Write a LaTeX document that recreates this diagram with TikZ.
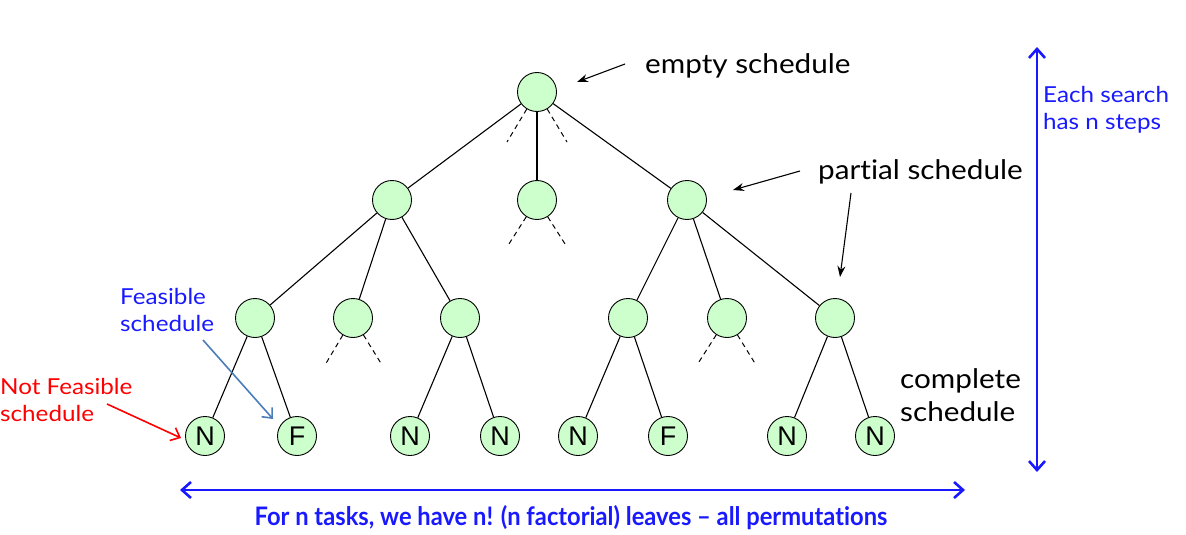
\documentclass[tikz,border=0pt]{standalone}
\usepackage{fontspec}
\setmainfont[FakeStretch=1.1,Ligatures={NoCommon}]{Lato}
\newfontfamily\bottomf[FakeStretch=0.93,Ligatures={NoCommon},BoldFont={* Bold}]{Lato}
\newfontfamily\arialf{Liberation Sans}
\usetikzlibrary{arrows.meta}
\definecolor{nodegreen}{rgb}{0.8,1,0.8}
\definecolor{bluetxt}{rgb}{0.1,0.1,1}
\definecolor{steel}{rgb}{0.29,0.49,0.73}
\definecolor{redtxt}{rgb}{1,0,0}
\begin{document}
\begin{tikzpicture}[x=1pt,y=-1pt,
  vert/.style={circle,draw,fill=nodegreen,minimum size=39pt,inner sep=0pt,line width=0.9pt},
  leaf/.style={vert,font=\arialf\fontsize{27}{27}\selectfont},
  edge/.style={line width=1.1pt},
  dashedge/.style={line width=1pt,dash pattern=on 5pt off 4pt},
  lbl/.style={font=\fontsize{27}{33}\selectfont,align=left,inner sep=0pt},
  small/.style={font=\fontsize{22}{27}\selectfont,align=left,inner sep=0pt},
  blk/.style={line width=1.1pt,-{Stealth[length=11pt,width=8pt]}},
  dbl/.style={line width=2.6pt,draw=bluetxt,{Straight Barb[length=9pt,width=16pt]}-{Straight Barb[length=9pt,width=16pt]}}
]
\useasboundingbox (0,0) rectangle (1186,535);

% nodes
\node[vert] (r) at (537,92) {};
\node[vert] (a) at (392,200) {};
\node[vert] (b) at (537,200) {};
\node[vert] (c) at (687,200) {};
\node[vert] (a1) at (255,318) {};
\node[vert] (a2) at (353,318) {};
\node[vert] (a3) at (460,318) {};
\node[vert] (c1) at (628,318) {};
\node[vert] (c2) at (727,318) {};
\node[vert] (c3) at (835,318) {};
\node[leaf] (l1) at (205,436) {N};
\node[leaf] (l2) at (297,436) {F};
\node[leaf] (l3) at (410,436) {N};
\node[leaf] (l4) at (500,436) {N};
\node[leaf] (l5) at (578,436) {N};
\node[leaf] (l6) at (668,436) {F};
\node[leaf] (l7) at (787,436) {N};
\node[leaf] (l8) at (875,436) {N};

% dashed stubs
\coordinate (rd1) at (507,142);
\coordinate (rd2) at (567,142);
\coordinate (bd1) at (507,247);
\coordinate (bd2) at (567,247);
\coordinate (ad1) at (325,365);
\coordinate (ad2) at (382,365);
\coordinate (cd1) at (697,365);
\coordinate (cd2) at (756,365);
\draw[dashedge] (r) -- (rd1);
\draw[dashedge] (r) -- (rd2);
\draw[dashedge] (b) -- (bd1);
\draw[dashedge] (b) -- (bd2);
\draw[dashedge] (a2) -- (ad1);
\draw[dashedge] (a2) -- (ad2);
\draw[dashedge] (c2) -- (cd1);
\draw[dashedge] (c2) -- (cd2);

% edges
\draw[edge] (r) -- (a);
\draw[edge] (r) -- (b);
\draw[edge] (r) -- (c);
\draw[edge] (a) -- (a1);
\draw[edge] (a) -- (a2);
\draw[edge] (a) -- (a3);
\draw[edge] (c) -- (c1);
\draw[edge] (c) -- (c2);
\draw[edge] (c) -- (c3);
\draw[edge] (a1) -- (l1);
\draw[edge] (a1) -- (l2);
\draw[edge] (a3) -- (l3);
\draw[edge] (a3) -- (l4);
\draw[edge] (c1) -- (l5);
\draw[edge] (c1) -- (l6);
\draw[edge] (c3) -- (l7);
\draw[edge] (c3) -- (l8);

% labels
\node[lbl,anchor=west] (te) at (645,66) {empty schedule};
\node[lbl,anchor=west] (tp) at (818,172) {part\kern0pt ial schedule};
\node[lbl,anchor=west] (tc) at (900,395) {complete\\schedule};
\node[small,anchor=west,text=bluetxt] (tf) at (120,310) {Feasible\\schedule};
\node[small,anchor=west,text=redtxt] (tn) at (0,400) {Not Feasible\\schedule};
\node[small,anchor=west,text=bluetxt] (ts) at (1043,110) {Each search\\has n steps};
\node[inner sep=0pt,text=bluetxt,font=\bottomf\bfseries\fontsize{25.5}{27}\selectfont] (tb) at (571,518) {For n tasks, we have n! (n factorial) leaves – all permutat\kern0pt ions};

% arrows
\coordinate (e1) at (625,64);
\coordinate (e2) at (577,82);
\draw[blk] (e1) -- (e2);
\coordinate (p1) at (800,171);
\coordinate (p2) at (733,190);
\draw[blk] (p1) -- (p2);
\coordinate (p3) at (851,193);
\coordinate (p4) at (840,277);
\draw[blk] (p3) -- (p4);
\coordinate (f1) at (203,340);
\coordinate (f2) at (273,419);
\draw[line width=1.6pt,draw=steel,-{Straight Barb[length=8pt,width=14pt]}] (f1) -- (f2);
\coordinate (n1) at (107,404);
\coordinate (n2) at (181,438);
\draw[line width=1.6pt,draw=redtxt,-{Straight Barb[length=8pt,width=14pt]}] (n1) -- (n2);
\coordinate (v1) at (1037,47);
\coordinate (v2) at (1037,472);
\draw[dbl] (v1) -- (v2);
\coordinate (h1) at (180,490);
\coordinate (h2) at (965,490);
\draw[dbl] (h1) -- (h2);
\end{tikzpicture}
\end{document}
